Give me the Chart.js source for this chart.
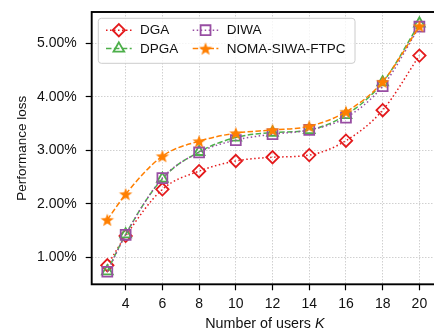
<!DOCTYPE html>
<html>
<head>
<meta charset="utf-8">
<script src="https://cdn.jsdelivr.net/npm/chart.js@4.4.0/dist/chart.umd.min.js"></script>
<style>
  html, body { margin: 0; padding: 0; background: #fff; overflow: hidden; }
  #wrap { width: 437px; height: 333px; }
</style>
</head>
<body>
<div id="wrap"><canvas id="chart" width="437" height="333"></canvas></div>
<script>
/* performance loss vs number of users */

const users  = [3, 4, 6, 8, 10, 12, 14, 16, 18, 20];
const xTicks = [4, 6, 8, 10, 12, 14, 16, 18, 20];
const yTicks = [1, 2, 3, 4, 5];

const dga  = [0.85, 1.40, 2.27, 2.61, 2.80, 2.87, 2.91, 3.18, 3.75, 4.77];
const dpga = [0.74, 1.43, 2.47, 2.97, 3.24, 3.33, 3.38, 3.66, 4.27, 5.37];
const diwa = [0.73, 1.42, 2.48, 2.96, 3.19, 3.30, 3.38, 3.61, 4.20, 5.31];
const noma = [1.70, 2.18, 2.89, 3.17, 3.32, 3.38, 3.45, 3.72, 4.28, 5.32];

const FONT = "'Liberation Sans', Arial, sans-serif";
const RED = '#e41a1c', GREEN = '#4daf4a', PURPLE = '#984ea3', ORANGE = '#ff7f00';
const DOT = [1.5, 2.5], DASH = [5.5, 2.4];

function starImage(color) {
  const c = document.createElement('canvas');
  c.width = 16; c.height = 16;
  const g = c.getContext('2d');
  g.beginPath();
  for (let i = 0; i < 10; i++) {
    const r = i % 2 ? 2.9 : 7;
    const a = -Math.PI / 2 + i * Math.PI / 5;
    g.lineTo(8 + r * Math.cos(a), 8.7 + r * Math.sin(a));
  }
  g.closePath();
  g.fillStyle = color;
  g.fill();
  return c;
}
const STAR = starImage(ORANGE);

function series(label, values, color, dash, style, radius, order) {
  return {
    label,
    data: users.map((k, i) => ({ x: k, y: values[i] })),
    borderColor: color,
    borderWidth: 1.5,
    borderDash: dash,
    cubicInterpolationMode: 'monotone',
    pointStyle: style,
    pointRadius: radius,
    pointBorderWidth: 1.8,
    pointBorderColor: color,
    pointBackgroundColor: 'rgba(0,0,0,0)',
    order,
  };
}

const datasets = [
  series('DGA', dga, RED, DOT, 'rectRot', 6.2, 3),
  series('DPGA', dpga, GREEN, DASH, 'triangle', 6.2, 2),
  series('DIWA', diwa, PURPLE, DOT, 'rect', 7, 1),
  series('NOMA-SIWA-FTPC', noma, ORANGE, DASH, STAR, 7, 0),
];

/* legend inside the plot (2 columns), frame, and x title with italic K */
const extras = {
  id: 'extras',
  afterDatasetsDraw(chart) {
    const { ctx, chartArea: a } = chart;
    const bx = a.left + 6.6, by = a.top + 6.3, bw = 256.7, bh = 45;
    ctx.save();
    ctx.beginPath();
    ctx.roundRect(bx, by, bw, bh, 3);
    ctx.fillStyle = 'rgba(255,255,255,0.8)';
    ctx.fill();
    ctx.strokeStyle = '#cccccc';
    ctx.lineWidth = 1;
    ctx.stroke();

    const cols = [bx + 7.7, bx + 94.4];
    const rows = [by + 11.9, by + 30.3];
    const order = [0, 2, 1, 3];
    order.forEach((di, n) => {
      const ds = datasets[di];
      const x0 = cols[n % 2], y = rows[Math.floor(n / 2)];
      ctx.beginPath();
      ctx.setLineDash(ds.borderDash);
      ctx.strokeStyle = ds.borderColor;
      ctx.lineWidth = ds.borderWidth;
      ctx.moveTo(x0, y);
      ctx.lineTo(x0 + 25.7, y);
      ctx.stroke();
      ctx.setLineDash([]);
      ctx.strokeStyle = ds.pointBorderColor;
      ctx.fillStyle = 'rgba(0,0,0,0)';
      ctx.lineWidth = ds.pointBorderWidth;
      Chart.helpers.drawPoint(ctx, {
        pointStyle: ds.pointStyle, radius: ds.pointRadius, borderWidth: ds.pointBorderWidth, rotation: 0,
      }, x0 + 12.85, y);
      ctx.fillStyle = '#111';
      ctx.font = '13.5px ' + FONT;
      ctx.textBaseline = 'middle';
      ctx.textAlign = 'left';
      ctx.fillText(ds.label, x0 + 34, y + 0.5);
    });
    ctx.restore();
  },
  afterDraw(chart) {
    const { ctx, chartArea: a } = chart;
    ctx.save();
    ctx.strokeStyle = '#000';
    ctx.lineWidth = 1.9;
    ctx.strokeRect(a.left, a.top, a.right - a.left, a.bottom - a.top);

    // x title: "Number of users " + italic "K"
    const t1 = 'Number of users ', t2 = 'K';
    ctx.fillStyle = '#111';
    ctx.textBaseline = 'middle';
    ctx.textAlign = 'left';
    ctx.font = '14.3px ' + FONT;
    const w1 = ctx.measureText(t1).width;
    ctx.font = 'italic 14.3px ' + FONT;
    const w2 = ctx.measureText(t2).width;
    let x = (a.left + a.right) / 2 + 1.5 - (w1 + w2) / 2;
    const y = a.bottom + 40;
    ctx.font = '14.3px ' + FONT;
    ctx.fillText(t1, x, y);
    ctx.font = 'italic 14.3px ' + FONT;
    ctx.fillText(t2, x + w1, y);
    ctx.restore();
  },
};

const gridOpts = {
  color: '#c4c4c4',
  lineWidth: 0.8,
  tickColor: '#000',
  tickWidth: 1.2,
  tickLength: 6,
  tickBorderDash: [],
};

new Chart(document.getElementById('chart'), {
  type: 'line',
  data: { datasets },
  plugins: [extras],
  options: {
    responsive: false,
    animation: false,
    layout: { autoPadding: false, padding: { top: 12, right: 2, left: 0, bottom: 0 } },
    plugins: { legend: { display: false }, tooltip: { enabled: false } },
    scales: {
      x: {
        type: 'linear',
        min: 2.15, max: 20.85,
        afterBuildTicks: s => { s.ticks = xTicks.map(v => ({ value: v })); },
        afterFit: s => { s.height = 48.7; s.paddingLeft = 0; s.paddingRight = 0; },
        grid: gridOpts,
        border: { display: false, dash: [1.5, 1.5] },
        ticks: { color: '#111', font: { family: FONT, size: 14 }, padding: 5, maxRotation: 0 },
      },
      y: {
        min: 0.495, max: 5.585,
        afterBuildTicks: s => { s.ticks = yTicks.map(v => ({ value: v })); },
        afterFit: s => { s.width = 91.7; s.paddingTop = 0; s.paddingBottom = 0; },
        grid: gridOpts,
        border: { display: false, dash: [1.5, 1.5] },
        ticks: {
          color: '#111', font: { family: FONT, size: 14 }, padding: 9,
          callback: v => v.toFixed(2) + '%',
        },
        title: {
          display: true, text: 'Performance loss', color: '#111',
          font: { family: FONT, size: 13.5 }, padding: { top: 14, bottom: 0 },
        },
      },
    },
  },
});
</script>
</body>
</html>
